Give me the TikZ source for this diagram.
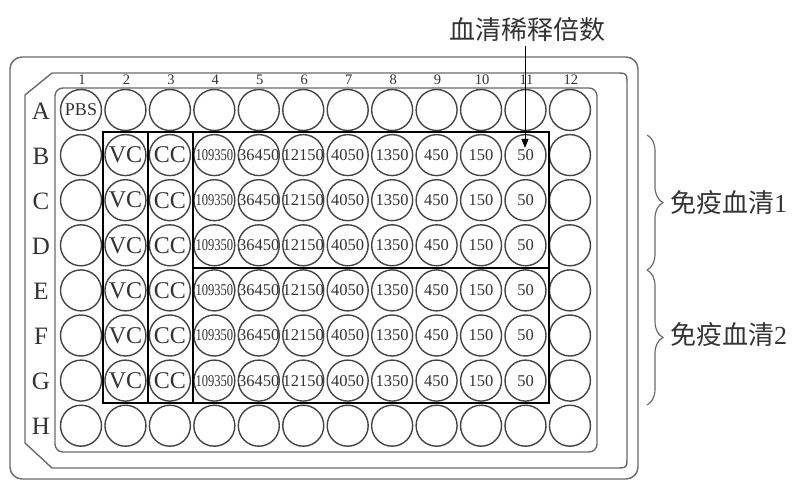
\documentclass[tikz,border=0pt]{standalone}
\usepackage{fontspec}
\setmainfont{Liberation Serif}
\newfontfamily\cjk{Noto Sans CJK SC}
\usetikzlibrary{arrows.meta,decorations.pathreplacing,calc}
\definecolor{ink}{HTML}{333333}
\definecolor{wellc}{HTML}{444444}
\definecolor{framec}{HTML}{6A6A6A}
\tikzset{
  frame/.style={draw=framec, line width=1.4pt},
  well/.style={circle, draw=wellc, line width=1.4pt, minimum size=41pt, inner sep=0pt},
  wtext/.style={inner sep=0pt, text=ink, font=\fontsize{16.5}{16.5}\selectfont},
  bigtext/.style={inner sep=0pt, text=ink, font=\fontsize{24}{24}\selectfont},
  coltext/.style={inner sep=0pt, text=ink, font=\fontsize{14.5}{14.5}\selectfont},
  rowtext/.style={inner sep=0pt, text=ink, font=\fontsize{25}{25}\selectfont},
  cjktext/.style={inner sep=0pt, text=ink, font=\fontsize{26}{26}\cjk},
  grpbox/.style={draw=black, line width=2pt},
  bracestyle/.style={draw=framec, line width=1.2pt, decorate, decoration={brace, amplitude=16pt}},
}
\begin{document}
\begin{tikzpicture}[x=1pt,y=-1pt]
\useasboundingbox (0,0) rectangle (811,484);
% plate frames
\draw[frame, rounded corners=12pt] (10,57) rectangle (638,479);
\draw[frame] (52,73) -- (615,73) .. controls (627,73) .. (627,85) -- (627,456) .. controls (627,468) .. (615,468) -- (52,468) -- (25,443) -- (25,95) -- cycle;
\draw[frame, rounded corners=8pt] (55,88) rectangle (597,452);
% wells
\foreach \r in {1,...,8}{
  \foreach \c in {1,...,12}{
    \node[well] (w-\r-\c) at ({81+(\c-1)*44.45},{110+(\r-1)*45.1}) {};
  }
}
% column numbers
\foreach \c in {1,...,12}{
  \node[coltext] (col-\c) at ($(w-1-\c)+(1,-30)$) {\c};
}
% row letters
\foreach \r/\l in {1/A,2/B,3/C,4/D,5/E,6/F,7/G,8/H}{
  \node[rowtext] (row-\r) at ($(w-\r-1)+(-40,1)$) {\l};
}
% well contents
\node[wtext, font=\fontsize{18}{18}\selectfont] (t-1-1) at (w-1-1) {PBS};
\foreach \r in {2,...,7}{
  \node[bigtext] (t-\r-2) at (w-\r-2) {VC};
  \node[bigtext] (t-\r-3) at (w-\r-3) {CC};
  \node[wtext] (t-\r-4) at (w-\r-4) {\scalebox{0.76}[1]{109350}};
  \foreach \c/\v in {5/36450,6/12150,7/4050,8/1350,9/450,10/150,11/50}{
    \node[wtext] (t-\r-\c) at (w-\r-\c) {\v};
  }
}
% group boxes
\draw[grpbox] (103,132.5) rectangle (148,403);
\draw[grpbox] (148,132.5) rectangle (192.5,403);
\draw[grpbox] (192.5,132.5) rectangle (548.5,403);
\draw[grpbox] (192.5,268) -- (548.5,268);
% title and arrow
\node[cjktext] (title) at (527,30) {血清稀释倍数};
\coordinate (tip) at (525,148);
\draw[black, line width=1pt, -{Triangle[length=9pt,width=7pt]}] ($(tip |- title.south)+(0,4)$) -- (tip);
% braces
\coordinate (b1top) at (647,135);
\coordinate (b1bot) at (647,270);
\coordinate (b2top) at (647,270);
\coordinate (b2bot) at (647,405);
\draw[bracestyle] (b1top) -- (b1bot);
\draw[bracestyle] (b2top) -- (b2bot);
\node[cjktext, anchor=west] (g1) at (670,203) {免疫血清{\fontspec{Liberation Serif}1}};
\node[cjktext, anchor=west] (g2) at (670,335) {免疫血清{\fontspec{Liberation Serif}2}};
\end{tikzpicture}
\end{document}
